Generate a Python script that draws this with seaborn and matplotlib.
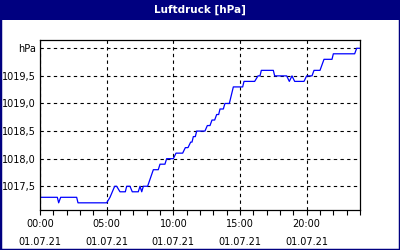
import matplotlib
matplotlib.use("Agg")
import matplotlib.pyplot as plt
from matplotlib.patches import Rectangle
from matplotlib.ticker import MultipleLocator, FixedLocator
import seaborn as sns
import pandas as pd

sns.set_style("white")
plt.rcParams['font.family'] = ['DejaVu Sans']
plt.rcParams['text.color'] = 'black'
plt.rcParams['xtick.color'] = 'black'
plt.rcParams['ytick.color'] = 'black'

# data: hours since 00:00 on 01.07.21, pressure in hPa
hours = [0, 1.3, 1.4, 1.55, 2.75, 2.85, 5.0, 5.25, 5.6, 5.75, 6.0, 6.4, 6.5, 6.75,
         6.92, 7.37, 7.5, 7.63, 7.75, 8.07, 8.5, 8.87, 9.0, 9.37, 9.5, 10.0,
         10.2, 10.7, 10.9, 11.1, 11.3, 11.4, 11.5, 11.65, 11.75, 12.37, 12.55,
         12.75, 12.9, 13.1, 13.25, 13.4, 13.5, 13.75, 13.87, 14.2, 14.5, 15.2,
         15.3, 16.1, 16.35, 16.5, 16.6, 17.5, 17.6, 18.5, 18.7, 18.9, 19.1,
         19.8, 20.0, 20.4, 20.55, 21.0, 21.3, 21.9, 22.0, 23.6, 23.75, 24.0]
pressure = [1017.3, 1017.3, 1017.2, 1017.3, 1017.3, 1017.2, 1017.2, 1017.3, 1017.5, 1017.5,
            1017.4, 1017.4, 1017.5, 1017.5, 1017.4, 1017.4, 1017.5, 1017.4, 1017.5, 1017.5,
            1017.8, 1017.8, 1017.9, 1017.9, 1018.0, 1018.0, 1018.1, 1018.1, 1018.2, 1018.2,
            1018.3, 1018.3, 1018.4, 1018.4, 1018.5, 1018.5, 1018.6, 1018.6, 1018.7, 1018.7,
            1018.8, 1018.8, 1018.9, 1018.9, 1019.0, 1019.0, 1019.3, 1019.3, 1019.4, 1019.4,
            1019.5, 1019.5, 1019.6, 1019.6, 1019.5, 1019.5, 1019.4, 1019.5, 1019.4, 1019.4,
            1019.5, 1019.5, 1019.6, 1019.6, 1019.8, 1019.8, 1019.9, 1019.9, 1020.0, 1020.0]

x_ticks = [0, 5, 10, 15, 20]
x_labels = ["00:00\n01.07.21", "05:00\n01.07.21", "10:00\n01.07.21",
            "15:00\n01.07.21", "20:00\n01.07.21"]
y_ticks = [1017.5, 1018.0, 1018.5, 1019.0, 1019.5, 1020.0]
y_labels = ["1017,5", "1018,0", "1018,5", "1019,0", "1019,5", "hPa"]
title = "Luftdruck [hPa]"

df = pd.DataFrame({"h": hours, "p": pressure})

fig = plt.figure(figsize=(4, 2.5), dpi=100)
fig.patch.set_facecolor("white")
ax = fig.add_axes([40/400, 1 - 210/250, 320/400, 170/250])

sns.lineplot(data=df, x="h", y="p", ax=ax, color="#0000ff", linewidth=0.9)

ax.set_xlim(0, 24)
ax.set_ylim(1017.07, 1020.15)
ax.xaxis.set_major_locator(FixedLocator(x_ticks))
ax.xaxis.set_minor_locator(MultipleLocator(1))
ax.set_xticks(x_ticks)
ax.set_xticklabels(x_labels, fontsize=7, linespacing=2.0, color="black")
ax.set_yticks(y_ticks)
ax.set_yticklabels(y_labels, fontsize=7, color="black")
ax.set_xlabel("")
ax.set_ylabel("")
ax.tick_params(axis="x", which="both", direction="out", length=3.5, width=0.8,
               color="black", pad=3, bottom=True)
ax.tick_params(axis="y", which="both", length=0, pad=3)
ax.grid(True, which="major", color="black", linestyle=(0, (3, 3)), linewidth=0.8)
for s in ax.spines.values():
    s.set_visible(True)
    s.set_color("black")
    s.set_linewidth(0.9)

fig.patches.append(Rectangle((0, 1 - 20/250), 1, 20/250, transform=fig.transFigure,
                             facecolor="#000080", edgecolor="none", zorder=0))
fig.patches.append(Rectangle((0, 0), 1, 1, transform=fig.transFigure,
                             facecolor="none", edgecolor="#000080", linewidth=2.5, zorder=5))
fig.text(0.5, 1 - 10/250, title, color="white", fontsize=7.5, fontweight="bold",
         ha="center", va="center")

fig.savefig("out.png", dpi=100)
